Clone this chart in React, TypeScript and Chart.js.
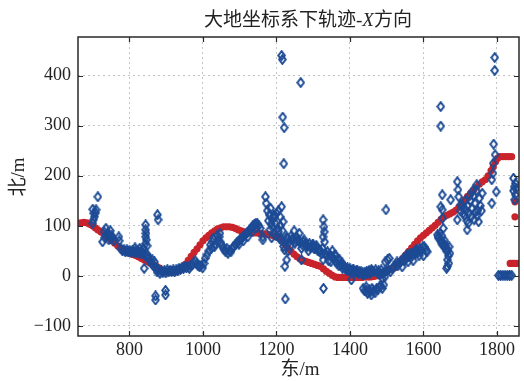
import React, { useEffect, useRef } from 'react';
import { Chart, registerables } from 'chart.js';

Chart.register(...registerables);

// ---- data -------------------------------------------------------------
const xTicks = [800, 1000, 1200, 1400, 1600, 1800];
const yTicks = [-100, 0, 100, 200, 300, 400];
const xRange = [660, 1860];
const yRange = [-120, 477];

const titleParts = ['大地坐标系下轨迹', '-X', '方向'];
const xTitleParts = ['东', '/m'];
const yTitleParts = ['北', '/m'];

// reference trajectory (red)
const redTrack: [number, number][] = [
  [660, 105], [668, 106], [676, 107], [684, 106], [692, 103], [700, 100], [707, 96], [714, 92],
  [722, 88], [730, 84], [738, 79], [745, 75], [752, 70], [760, 65], [768, 60], [776, 55],
  [784, 50], [792, 47], [800, 45], [808, 43], [816, 41], [824, 38], [832, 35], [840, 32],
  [848, 29], [856, 26], [864, 23], [872, 20], [880, 16], [888, 12], [896, 9], [904, 8],
  [912, 8], [920, 8], [928, 9], [936, 11], [944, 16], [952, 23], [960, 31], [968, 39],
  [976, 47], [984, 54], [992, 62], [1000, 70], [1008, 76], [1016, 81], [1024, 86], [1032, 90],
  [1040, 94], [1048, 96], [1056, 98], [1064, 98], [1072, 98], [1080, 97], [1088, 95], [1096, 92],
  [1104, 90], [1112, 88], [1120, 87], [1128, 87], [1136, 86], [1144, 86], [1152, 85], [1160, 84],
  [1168, 84], [1176, 83], [1184, 82], [1192, 80], [1200, 78], [1208, 76], [1216, 70], [1224, 62],
  [1232, 55], [1240, 49], [1248, 43], [1256, 38], [1264, 34], [1272, 31], [1280, 29], [1288, 27],
  [1296, 25], [1304, 23], [1312, 21], [1320, 19], [1328, 14], [1336, 9], [1344, 5], [1352, 1],
  [1360, -2], [1368, -3], [1376, -3], [1384, -3], [1392, -3], [1400, -3], [1408, -3], [1416, -3],
  [1424, -3], [1432, -3], [1440, -2], [1448, -2], [1456, -2], [1464, -1], [1472, 0], [1480, 3],
  [1488, 7], [1496, 10], [1504, 12], [1512, 14], [1520, 16], [1528, 22], [1536, 29], [1544, 35],
  [1552, 42], [1560, 49], [1568, 56], [1576, 63], [1584, 70], [1592, 76], [1600, 81], [1608, 86],
  [1616, 91], [1624, 96], [1632, 101], [1640, 107], [1648, 113], [1656, 118], [1664, 121], [1672, 124],
  [1680, 127], [1688, 131], [1696, 137], [1704, 144], [1712, 152], [1720, 159], [1728, 165], [1736, 171],
  [1744, 177], [1752, 183], [1760, 188], [1768, 192], [1776, 200], [1784, 210], [1790, 218], [1796, 228],
  [1802, 235], [1808, 238], [1816, 238], [1824, 238], [1832, 238], [1840, 238],
];
const redStray: [number, number][] = [
  [1849, 148], [1849, 118], [1836, 25], [1842, 25], [1848, 25], [1854, 25],
];

// measured trajectory (blue)
const blueTrack: [number, number][] = [
  [700, 105], [702, 112], [705, 118], [703, 125], [708, 126], [700, 133], [709, 132], [714, 158],
  [727, 68], [731, 88], [733, 76], [736, 95], [738, 82], [741, 86], [744, 72], [745, 82], [748, 90],
  [750, 74], [752, 80], [754, 76], [758, 70], [771, 78], [772, 70],
  [777, 54], [781, 50], [785, 52], [789, 48], [793, 52], [797, 48], [801, 50], [805, 47], [809, 51],
  [813, 47], [817, 50], [821, 46], [825, 49], [829, 44], [833, 48], [837, 45], [841, 42], [845, 38],
  [849, 42], [852, 36], [815, 56], [828, 55], [838, 55],
  [844, 102], [844, 92], [845, 85], [844, 78], [846, 72], [843, 64], [848, 60], [840, 15],
  [876, 122], [878, 112], [871, -40], [871, -48], [898, -29], [898, -38],
  [856, 30], [860, 25], [862, 32], [865, 20], [868, 28], [872, 15], [875, 8], [879, 12], [883, 5],
  [887, 10], [891, 7], [895, 10], [899, 6], [903, 12], [907, 8], [911, 11], [915, 9], [919, 12],
  [923, 8], [927, 12], [931, 10],
  [935, 15], [939, 13], [943, 17], [947, 15], [951, 19], [955, 16], [959, 19], [963, 15], [967, 20],
  [971, 22], [975, 26], [979, 30], [983, 24], [987, 20], [991, 18], [995, 21], [999, 16], [1003, 25],
  [1006, 35], [1011, 42],
  [1016, 50], [1020, 62], [1023, 55], [1025, 68], [1028, 75], [1031, 58], [1034, 64], [1038, 80],
  [1041, 70], [1044, 78], [1046, 85], [1049, 66], [1052, 60], [1055, 56], [1058, 52], [1062, 48], [1065, 55],
  [1068, 45], [1072, 50], [1076, 48], [1080, 55], [1084, 59], [1088, 62], [1092, 66], [1096, 68],
  [1100, 72], [1104, 74], [1108, 77], [1112, 80], [1116, 83], [1120, 86], [1124, 89], [1128, 92],
  [1132, 96], [1136, 100], [1140, 103], [1144, 105], [1148, 104], [1152, 100], [1156, 95], [1098, 63],
  [1110, 70], [1122, 78], [1134, 88], [1146, 96],
  [1163, 78], [1163, 72], [1170, 158], [1172, 145],
  [1175, 130], [1178, 110], [1180, 122], [1182, 92], [1184, 135], [1186, 104], [1188, 112], [1187, 76],
  [1190, 96], [1192, 120], [1193, 85], [1196, 118], [1198, 104], [1200, 125], [1200, 80], [1203, 95],
  [1205, 130], [1206, 88], [1208, 75], [1210, 118], [1211, 100], [1214, 138], [1215, 70], [1216, 90], [1218, 108],
  [1219, 59], [1222, 52], [1228, 32], [1223, 19], [1224, -46],
  [1225, 70], [1228, 78], [1230, 75], [1232, 50], [1235, 68], [1238, 60], [1240, 80], [1243, 74],
  [1245, 72], [1248, 90], [1250, 65], [1253, 70], [1255, 78], [1258, 72], [1260, 70], [1262, 85],
  [1265, 66], [1268, 55], [1268, 32], [1270, 62], [1273, 68], [1275, 72], [1278, 64], [1280, 65],
  [1283, 58], [1285, 60], [1287, 50], [1290, 64], [1293, 56], [1295, 58], [1298, 62], [1300, 62],
  [1303, 54], [1305, 55], [1308, 60], [1310, 58], [1313, 50], [1315, 52], [1318, 48], [1320, 50],
  [1323, 44], [1325, 55],
  [1327, 112], [1329, 98], [1330, 88], [1327, 78], [1331, 68], [1327, 32], [1328, -25],
  [1333, 45], [1336, 40], [1339, 48], [1342, 30], [1345, 42], [1348, 28], [1350, 38], [1352, 50],
  [1355, 35], [1358, 42], [1360, 30], [1362, 40], [1365, 25], [1368, 30], [1370, 20], [1372, 32],
  [1375, 22], [1378, 26], [1380, 15], [1383, 20], [1385, 18], [1388, 14], [1390, 12], [1393, 16],
  [1395, 10], [1398, 12], [1400, 14], [1403, 8], [1405, 10], [1408, 12], [1410, 12], [1413, 6],
  [1415, 8], [1418, 10], [1420, 10], [1423, 5], [1425, 8], [1428, 6], [1430, 8], [1433, 3],
  [1435, 6], [1438, 2], [1440, 6], [1443, 4], [1445, 8], [1448, 5], [1450, 8], [1455, 5], [1460, 10],
  [1404, -8],
  [1436, -25], [1440, -30], [1444, -22], [1448, -35], [1452, -28], [1456, -32], [1460, -25], [1464, -30],
  [1468, -34], [1472, -26], [1476, -28], [1480, -22], [1484, -20], [1488, -25], [1492, -18], [1458, -38], [1445, -30],
  [1452, 10], [1458, 12], [1465, 8], [1470, 12], [1475, 6], [1478, 10], [1482, 2], [1485, 12],
  [1490, 5], [1495, 8], [1500, 10], [1505, 12], [1510, 8], [1488, -5], [1495, -2],
  [1507, 35], [1502, 32], [1498, 132], [1496, 28],
  [1515, 15], [1520, 18], [1524, 22], [1528, 28], [1530, 20], [1534, 25], [1538, 28], [1542, 18],
  [1545, 35], [1548, 30], [1550, 32], [1553, 40], [1556, 42], [1558, 28], [1560, 38], [1563, 44],
  [1566, 45], [1570, 40], [1572, 30], [1575, 48], [1578, 44], [1580, 52], [1583, 50], [1585, 46],
  [1588, 40], [1590, 55], [1593, 50], [1595, 50], [1598, 58], [1600, 40], [1602, 58], [1605, 54],
  [1608, 50], [1610, 48],
  [1638, 82], [1640, 76], [1642, 78], [1645, 85], [1646, 72], [1648, 66], [1650, 80], [1652, 62],
  [1655, 65], [1656, 58], [1658, 70], [1660, 60], [1662, 50], [1664, 55], [1666, 50], [1668, 40],
  [1670, 58], [1672, 45],
  [1651, 162], [1651, 132], [1652, 115], [1654, 95], [1647, 138], [1665, 32], [1665, 19], [1669, 25], [1663, 15],
  [1692, 188], [1694, 172], [1696, 158], [1701, 142], [1674, 152], [1692, 112], [1719, 92],
  [1700, 130], [1704, 140], [1708, 125], [1712, 120], [1714, 150], [1716, 130], [1720, 140], [1722, 105],
  [1724, 125], [1726, 160], [1728, 150], [1730, 118], [1732, 135], [1734, 170], [1736, 160], [1738, 112],
  [1740, 145], [1742, 128], [1744, 170], [1746, 120], [1748, 130], [1750, 108], [1752, 155], [1755, 140],
  [1758, 130], [1718, 110], [1710, 135], [1745, 182], [1760, 165],
  [1786, 145], [1786, 192], [1798, 168], [1789, 205], [1791, 263], [1795, 242], [1790, 225],
  [1845, 195], [1847, 178], [1850, 162], [1848, 152], [1845, 170], [1850, 185], [1852, 175],
  [1804, 1], [1810, 1], [1816, 1], [1822, 1], [1828, 1], [1834, 1], [1840, 1],
];
const blueOutliers: [number, number][] = [
  [1214, 440], [1216, 432], [1266, 386], [1217, 317], [1221, 296], [1220, 224],
  [1794, 436], [1794, 410], [1647, 338], [1647, 299],
];

// ---- style -------------------------------------------------------------
const RED = '#c9232b';
const BLUE = '#1d4b95';
const AXIS = '#2a2a2a';
const TEXT = '#222222';
const SERIF = "'Liberation Serif', 'Times New Roman', serif";
const CJK = "'Noto Sans CJK SC', sans-serif";

function makeDiamond(): HTMLCanvasElement {
  const c = document.createElement('canvas');
  c.width = 9;
  c.height = 11;
  const g = c.getContext('2d')!;
  g.strokeStyle = BLUE;
  g.lineWidth = 2;
  g.beginPath();
  g.moveTo(4.5, 1.2);
  g.lineTo(7.8, 5.5);
  g.lineTo(4.5, 9.8);
  g.lineTo(1.2, 5.5);
  g.closePath();
  g.stroke();
  return c;
}

const fmt = (v: number) => (v < 0 ? '\u2212' + Math.abs(v) : String(v));

type Run = { t: string; f: string };
function drawRuns(ctx: CanvasRenderingContext2D, runs: Run[], cx: number, by: number, rot = 0) {
  ctx.save();
  ctx.translate(cx, by);
  ctx.rotate(rot);
  ctx.textAlign = 'left';
  ctx.textBaseline = 'alphabetic';
  ctx.fillStyle = TEXT;
  let total = 0;
  runs.forEach((r) => {
    ctx.font = r.f;
    total += ctx.measureText(r.t).width;
  });
  let x = -total / 2;
  runs.forEach((r) => {
    ctx.font = r.f;
    ctx.fillText(r.t, x, 0);
    x += ctx.measureText(r.t).width;
  });
  ctx.restore();
}

const decorPlugin = {
  id: 'decor',
  afterDraw(chart: any) {
    const ctx: CanvasRenderingContext2D = chart.ctx;
    const { left, right, top, bottom } = chart.chartArea;
    const xs = chart.scales.x;
    const ys = chart.scales.y;
    ctx.save();
    ctx.strokeStyle = AXIS;
    ctx.lineWidth = 1.5;
    ctx.strokeRect(left, top, right - left, bottom - top);
    ctx.lineWidth = 1.2;
    ctx.beginPath();
    xTicks.forEach((v) => {
      const p = Math.round(xs.getPixelForValue(v)) + 0.5;
      ctx.moveTo(p, bottom);
      ctx.lineTo(p, bottom - 5);
      ctx.moveTo(p, top);
      ctx.lineTo(p, top + 5);
    });
    yTicks.forEach((v) => {
      const p = Math.round(ys.getPixelForValue(v)) + 0.5;
      ctx.moveTo(left, p);
      ctx.lineTo(left + 5, p);
      ctx.moveTo(right, p);
      ctx.lineTo(right - 5, p);
    });
    ctx.stroke();
    ctx.restore();

    const fs = 19;
    drawRuns(ctx, [
      { t: titleParts[0], f: `${fs}px ${CJK}` },
      { t: '-', f: `${fs}px ${SERIF}` },
      { t: titleParts[1].slice(1), f: `italic ${fs}px ${SERIF}` },
      { t: titleParts[2], f: `${fs}px ${CJK}` },
    ], 308, 26);
    drawRuns(ctx, [
      { t: xTitleParts[0], f: `${fs}px ${CJK}` },
      { t: xTitleParts[1], f: `${fs}px ${SERIF}` },
    ], 300, 375);
    drawRuns(ctx, [
      { t: yTitleParts[0], f: `${fs}px ${CJK}` },
      { t: yTitleParts[1], f: `${fs}px ${SERIF}` },
    ], 24, 177, -Math.PI / 2);
  },
};

export default function App() {
  const ref = useRef<HTMLCanvasElement | null>(null);
  useEffect(() => {
    if (!ref.current) return;
    const diamond = makeDiamond();
    const chart = new Chart(ref.current, {
      type: 'scatter',
      data: {
        datasets: [
          {
            label: 'measured',
            data: blueTrack.concat(blueOutliers).map(([x, y]) => ({ x, y })),
            pointStyle: diamond as any,
            pointRadius: 4,
            borderColor: BLUE,
            backgroundColor: 'rgba(0,0,0,0)',
            clip: 0,
          } as any,
          {
            label: 'reference',
            data: redTrack.concat(redStray).map(([x, y]) => ({ x, y })),
            pointStyle: 'circle',
            pointRadius: 3.6,
            pointBorderWidth: 0,
            borderWidth: 0,
            backgroundColor: RED,
            borderColor: RED,
            clip: 0,
          } as any,
        ],
      },
      options: {
        responsive: false,
        animation: false,
        devicePixelRatio: 1,
        layout: { padding: { left: 0, right: 2, top: 37, bottom: 0 } },
        plugins: { legend: { display: false }, tooltip: { enabled: false }, title: { display: false } },
        scales: {
          x: {
            type: 'linear',
            min: xRange[0],
            max: xRange[1],
            afterBuildTicks: (s: any) => { s.ticks = xTicks.map((v) => ({ value: v })); },
            afterFit: (s: any) => { s.height = 45; },
            grid: { color: '#c4c4c4', lineWidth: 1, drawTicks: false },
            border: { display: false, dash: [2, 3] },
            ticks: { color: TEXT, font: { family: SERIF, size: 18 }, padding: 3, maxRotation: 0, callback: (v: any) => fmt(Number(v)) },
          },
          y: {
            type: 'linear',
            min: yRange[0],
            max: yRange[1],
            afterBuildTicks: (s: any) => { s.ticks = yTicks.map((v) => ({ value: v })); },
            afterFit: (s: any) => { s.width = 78; },
            grid: { color: '#c4c4c4', lineWidth: 1, drawTicks: false },
            border: { display: false, dash: [2, 3] },
            ticks: { color: TEXT, font: { family: SERIF, size: 18 }, padding: 7, callback: (v: any) => fmt(Number(v)) },
          },
        },
      },
      plugins: [decorPlugin],
    } as any);
    return () => chart.destroy();
  }, []);
  return (
    <div style={{ position: 'absolute', left: 0, top: 0, width: 524, height: 381, background: '#fff' }}>
      <canvas ref={ref} width={524} height={381} style={{ width: 524, height: 381 }} />
    </div>
  );
}
